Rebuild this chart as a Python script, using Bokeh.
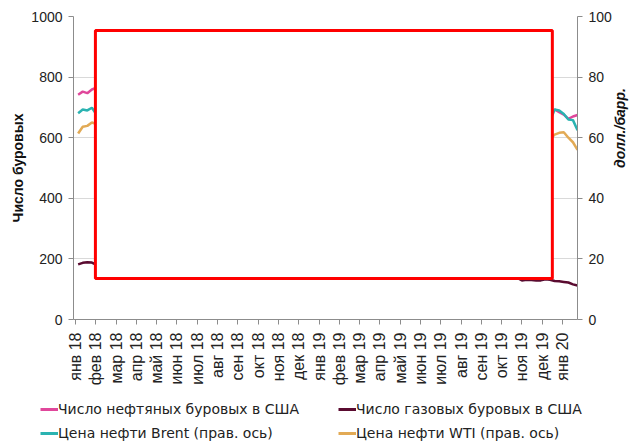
import math
import pandas as pd
from bokeh.plotting import figure
from bokeh.layouts import column
from bokeh.models import (Range1d, LinearAxis, FixedTicker, Legend, LegendItem,
                          BoxAnnotation, ColumnDataSource)
from bokeh.embed import file_html
from bokeh.resources import INLINE

# ---- data (weekly, Fridays, Jan 5 2018 .. Jan 24 2020) ----
week_start = "2018-01-05"
week_end = "2020-01-24"

oil_rigs = [
    742, 752, 747, 759,  765, 791, 798, 799,  800, 796, 800, 804, 797,
    808, 815, 820, 825,  834, 844, 844, 859,  861, 862, 863, 862, 858,
    863, 863, 858, 861,  859, 869, 869, 860, 862,  860, 867, 866, 863,
    861, 869, 873, 875,  874, 886, 888, 885, 887,  877, 873, 883, 885,
    877, 873, 852, 862,  847, 854, 857, 853,  843, 834, 833, 824, 816,
    831, 833, 825, 805,  807, 805, 802, 797, 800,  789, 788, 789, 793,
    788, 784, 779, 776,  770, 764, 754, 746, 742,  738, 733, 719, 713,
    710, 712, 713, 696,  691, 684, 674, 671, 668,  663, 672, 693, 684,
    676, 662, 670, 675,
]
gas_rigs = [
    182, 187, 189, 188,  180, 184, 181, 180,  181, 187, 189, 186, 192,
    189, 192, 188, 187,  197, 198, 202, 201,  197, 198, 196, 195, 189,
    187, 187, 186, 183,  186, 186, 183, 183, 183,  186, 185, 185, 189,
    189, 189, 192, 191,  193, 196, 201, 195, 199,  198, 193, 198, 198,
    198, 197, 198, 195,  199, 194, 193, 194,  191, 192, 190, 191, 190,
    194, 192, 188, 186,  186, 183, 181, 180, 186,  174, 177, 177, 173,
    177, 175, 169, 167,  165, 164, 162, 161, 162,  153, 152, 148, 147,
    144, 141, 134, 137,  129, 131, 130, 129, 129,  133, 131, 127, 126,
    124, 122, 116, 112,
]
brent = [
    68.1, 69.3, 69.0, 69.9,  67.6, 64.0, 64.6, 66.5,  64.4, 64.9, 66.0, 69.1, 69.3,
    68.8, 71.8, 73.9, 74.6,  75.1, 77.4, 78.9, 77.0,  76.3, 75.9, 74.5, 74.0, 78.0,
    77.4, 74.9, 73.4, 74.1,  73.2, 72.7, 71.5, 75.2, 77.2,  77.0, 78.2, 79.3, 81.6,
    84.6, 81.8, 80.0, 77.2,  73.0, 70.7, 67.0, 61.5, 59.5,  61.2, 60.3, 55.0, 52.5,
    56.9, 60.5, 62.0, 61.2,  62.1, 62.2, 65.4, 66.6,  65.1, 65.6, 67.4, 67.6, 68.0,
    69.9, 71.1, 72.0, 73.8,  70.5, 70.6, 72.3, 69.5, 63.8,  62.5, 61.8, 63.9, 65.2,
    64.1, 66.1, 63.0, 63.5,  61.9, 58.3, 59.0, 59.4, 60.4,  61.0, 60.4, 64.6, 62.3,
    58.4, 59.4, 59.9, 61.7,  62.1, 62.5, 63.0, 63.4, 63.4,  63.0, 65.5, 69.3, 69.0,
    67.8, 66.0, 65.8, 62.5,
]
wti = [
    61.4, 63.6, 63.9, 65.0,  64.5, 60.0, 61.2, 63.0,  61.5, 61.0, 62.0, 65.0, 64.9,
    63.5, 66.5, 68.0, 68.0,  69.5, 71.0, 71.5, 69.5,  66.5, 65.5, 65.5, 67.5, 73.5,
    73.5, 71.0, 68.5, 69.0,  68.5, 67.0, 66.0, 68.0, 69.8,  68.0, 69.0, 71.0, 72.5,
    74.5, 72.0, 69.0, 67.5,  63.5, 60.5, 56.5, 51.5, 51.0,  52.5, 51.0, 46.5, 44.5,
    48.0, 51.5, 53.0, 53.0,  54.0, 53.0, 55.0, 56.5,  56.0, 56.0, 58.0, 59.0, 60.0,
    62.5, 64.0, 64.0, 65.0,  62.0, 62.0, 63.0, 59.5, 56.0,  53.0, 52.5, 55.5, 59.0,
    57.5, 59.5, 56.0, 56.0,  55.0, 53.0, 55.0, 54.5, 55.0,  56.0, 56.5, 58.5, 56.5,
    53.0, 53.0, 54.0, 55.5,  56.5, 57.0, 57.0, 58.0, 58.0,  57.5, 59.5, 61.0, 61.6,
    61.8, 60.0, 58.5, 56.0,
]
month_labels = ["янв 18", "фев 18", "мар 18", "апр 18", "май 18", "июн 18",
                "июл 18", "авг 18", "сен 18", "окт 18", "ноя 18", "дек 18",
                "янв 19", "фев 19", "мар 19", "апр 19", "май 19", "июн 19",
                "июл 19", "авг 19", "сен 19", "окт 19", "ноя 19", "дек 19",
                "янв 20"]
series_names = ["Число нефтяных буровых в США", "Число газовых буровых в США",
                "Цена нефти Brent (прав. ось)", "Цена нефти WTI (прав. ось)"]
# red overlay box extents (data units: months since Jan 2018, rig count)
box_x = (0.98, 23.5)
box_y = (135, 954)

dates = pd.date_range(week_start, week_end, freq="W-FRI")
def month_pos(d):
    return (d.year - 2018) * 12 + (d.month - 1) + (d.day - 1) / d.days_in_month
xs = [month_pos(d) for d in dates]

src = ColumnDataSource(dict(x=xs, oil=oil_rigs, gas=gas_rigs, brent=brent, wti=wti))

C_OIL = "#e0479b"
C_GAS = "#5a0b30"
C_BRENT = "#2ab3b1"
C_WTI = "#e2aa55"
COLORS = [C_OIL, C_GAS, C_BRENT, C_WTI]
GRAY = "#8c8c8c"

p = figure(width=638, height=390, output_backend="svg", toolbar_location=None,
           x_range=Range1d(-0.1, 24.74), y_range=Range1d(0, 1000),
           min_border_left=73, min_border_right=60, min_border_top=16,
           min_border_bottom=71)
p.outline_line_color = None
p.background_fill_color = "white"
p.extra_y_ranges = {"price": Range1d(0, 100)}

p.line("x", "oil", source=src, line_color=C_OIL, line_width=2.5)
p.line("x", "gas", source=src, line_color=C_GAS, line_width=2.5)
p.line("x", "brent", source=src, line_color=C_BRENT, line_width=2.5, y_range_name="price")
p.line("x", "wti", source=src, line_color=C_WTI, line_width=2.5, y_range_name="price")

p.add_layout(BoxAnnotation(left=box_x[0], right=box_x[1], bottom=box_y[0], top=box_y[1],
                           fill_color="white", fill_alpha=1.0,
                           line_color="#ff0000", line_width=3, line_alpha=1.0))

FONT = "Liberation Sans"

# x axis
xa = p.xaxis[0]
xa.ticker = FixedTicker(ticks=list(range(len(month_labels))))
xa.major_label_overrides = {i: lab for i, lab in enumerate(month_labels)}
xa.major_label_orientation = math.pi / 2
xa.major_label_text_font = FONT
xa.major_label_text_font_size = "16px"
xa.major_label_text_color = "#222222"
xa.axis_line_color = GRAY
xa.major_tick_line_color = GRAY
xa.major_tick_out = 5
xa.major_tick_in = 0
xa.minor_tick_line_color = None
xa.major_label_standoff = 8

# left axis
ya = p.yaxis[0]
ya.ticker = FixedTicker(ticks=[0, 200, 400, 600, 800, 1000])
ya.axis_label = "Число буровых"
ya.axis_label_text_font = FONT
ya.axis_label_text_font_style = "bold"
ya.axis_label_text_font_size = "14px"
ya.axis_label_text_color = "#111111"
ya.axis_label_standoff = 2
ya.major_label_text_font = FONT
ya.major_label_text_font_size = "14px"
ya.major_label_text_color = "#222222"
ya.axis_line_color = GRAY
ya.major_tick_line_color = GRAY
ya.major_tick_out = 5
ya.major_tick_in = 0
ya.minor_tick_line_color = None
ya.major_label_standoff = 6

# right axis
ra = LinearAxis(y_range_name="price", ticker=FixedTicker(ticks=[0, 20, 40, 60, 80, 100]))
ra.axis_label = "долл./барр."
ra.axis_label_text_font = FONT
ra.axis_label_text_font_style = "bold italic"
ra.axis_label_text_font_size = "14px"
ra.axis_label_text_color = "#111111"
ra.axis_label_standoff = 5
if "axis_label_orientation" in ra.properties():
    ra.axis_label_orientation = math.pi / 2
ra.major_label_text_font = FONT
ra.major_label_text_font_size = "14px"
ra.major_label_text_color = "#222222"
ra.axis_line_color = GRAY
ra.major_tick_line_color = GRAY
ra.major_tick_out = 5
ra.major_tick_in = 0
ra.minor_tick_line_color = None
ra.major_label_standoff = 6
p.add_layout(ra, "right")

p.xgrid.grid_line_color = None
p.ygrid.grid_line_color = "#d9d9d9"
p.ygrid.grid_line_width = 1
p.ygrid.ticker = FixedTicker(ticks=[200, 400, 600, 800, 1000])

# ---- legend strip (separate figure; its lines are the same series, out of view) ----
lg = figure(width=638, height=56, output_backend="svg", toolbar_location=None,
            x_range=Range1d(-0.1, 24.74), y_range=Range1d(2000, 3000),
            min_border=0, x_axis_type=None, y_axis_type=None)
lg.outline_line_color = None
lg.xgrid.visible = False
lg.ygrid.visible = False
for fig in (p, lg):
    if "frame_align" in fig.properties():
        fig.frame_align = False
cols = ["oil", "gas", "brent", "wti"]
rends = [lg.line("x", c, source=src, line_color=col, line_width=3)
         for c, col in zip(cols, COLORS)]

legend = Legend(items=[LegendItem(label=n, renderers=[r]) for n, r in zip(series_names, rends)],
                orientation="horizontal", ncols=2,
                location=(40, 1),
                label_text_font="DejaVu Sans", label_text_font_size="14px",
                label_text_color="#222222",
                glyph_width=18, glyph_height=24, label_height=24, label_standoff=0,
                label_width=280, spacing=0, padding=0, margin=0,
                border_line_color=None, background_fill_alpha=0)
lg.add_layout(legend, "center")

open("out.html", "w").write(file_html(column(p, lg), INLINE))
